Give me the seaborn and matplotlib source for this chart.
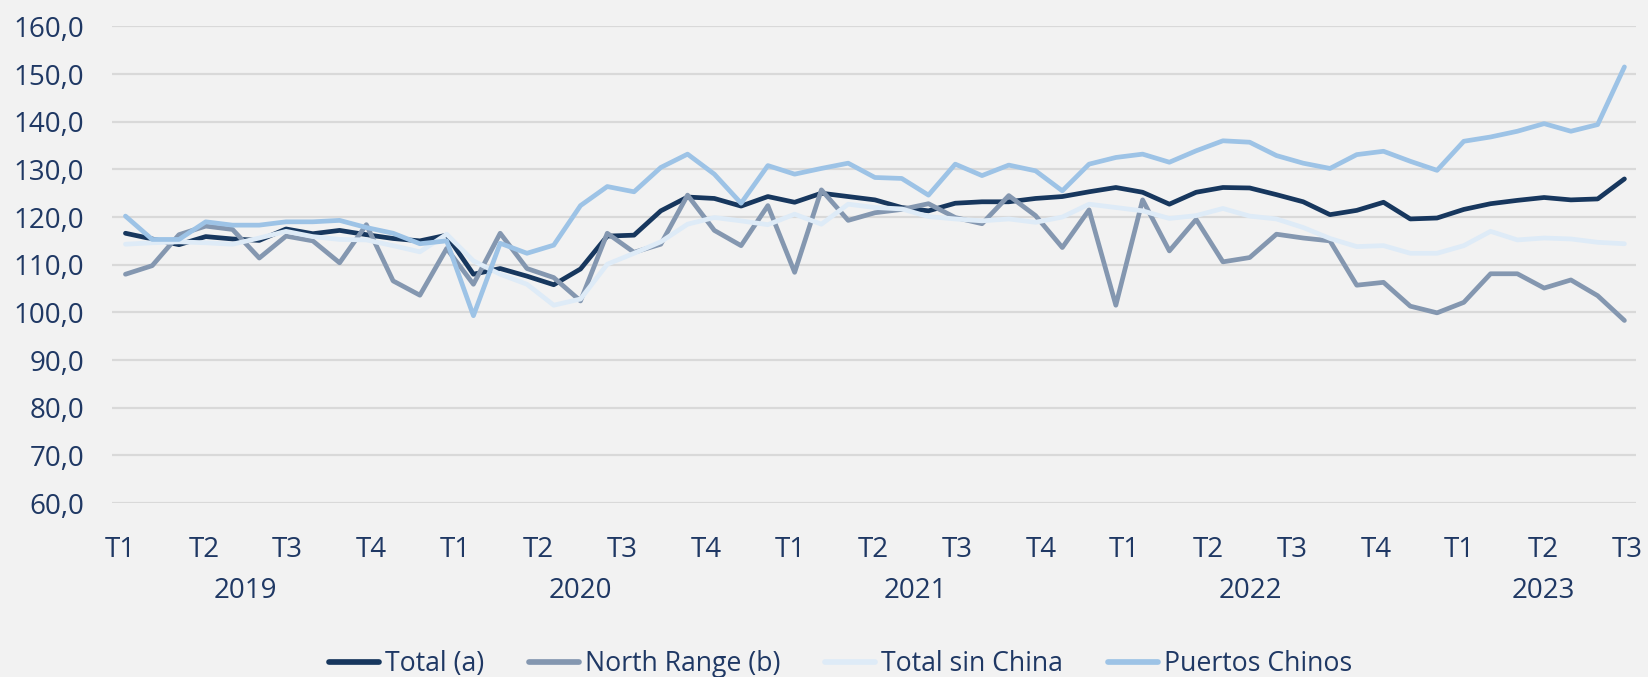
import numpy as np
import pandas as pd
import matplotlib
matplotlib.use("Agg")
import matplotlib.pyplot as plt
from matplotlib.ticker import FuncFormatter
from matplotlib.lines import Line2D
import seaborn as sns

# ---------------- data ----------------
total_a = [116.6, 115.4, 114.2, 115.9, 115.4, 115.1, 117.5, 116.5, 117.2, 116.3, 115.5, 115.0,
           116.2, 108.0, 109.2, 107.6, 105.8, 109.1, 116.0, 116.2, 121.3, 124.2, 123.9, 122.3,
           124.3, 123.1, 125.0, 124.3, 123.6, 122.0, 121.3, 122.9, 123.2, 123.2, 123.9, 124.3,
           125.3, 126.2, 125.2, 122.7, 125.2, 126.2, 126.1, 124.7, 123.2, 120.5, 121.4, 123.1,
           119.6, 119.8, 121.6, 122.8, 123.5, 124.1, 123.6, 123.8, 128.0]
north_range_b = [108.0, 109.8, 116.3, 118.1, 117.4, 111.4, 116.0, 115.0, 110.4, 118.4, 106.6, 103.6,
                 113.4, 105.9, 116.6, 109.2, 107.3, 102.4, 116.6, 112.6, 114.3, 124.6, 117.2, 114.0,
                 122.4, 108.4, 125.7, 119.3, 120.9, 121.6, 122.8, 119.9, 118.6, 124.5, 120.3, 113.6,
                 121.5, 101.5, 123.6, 112.9, 119.5, 110.6, 111.5, 116.4, 115.6, 115.0, 105.7, 106.3,
                 101.3, 99.9, 102.1, 108.1, 108.1, 105.1, 106.8, 103.5, 98.3]
total_sin_china = [114.3, 114.6, 114.8, 114.6, 114.3, 115.6, 117.0, 115.9, 115.3, 115.2, 114.0, 112.7,
                   116.4, 110.8, 108.0, 105.9, 101.5, 102.8, 110.1, 112.4, 114.8, 118.5, 119.9, 119.2,
                   118.4, 120.6, 118.5, 122.7, 122.0, 121.7, 120.1, 119.6, 119.2, 119.6, 118.9, 120.0,
                   122.7, 122.0, 121.3, 119.7, 120.3, 121.8, 120.2, 119.6, 117.8, 115.5, 113.8, 114.0,
                   112.4, 112.4, 114.0, 117.0, 115.2, 115.6, 115.4, 114.7, 114.4]
puertos_chinos = [120.2, 115.3, 115.3, 119.0, 118.3, 118.3, 119.0, 119.0, 119.3, 117.8, 116.6, 114.4,
                  115.0, 99.3, 114.5, 112.4, 114.1, 122.4, 126.4, 125.3, 130.4, 133.2, 129.0, 122.9,
                  130.8, 129.0, 130.2, 131.3, 128.3, 128.1, 124.6, 131.1, 128.7, 130.9, 129.7, 125.5,
                  131.1, 132.5, 133.2, 131.5, 133.9, 136.0, 135.7, 132.9, 131.3, 130.2, 133.1, 133.8,
                  131.7, 129.8, 135.9, 136.8, 138.0, 139.6, 138.0, 139.4, 151.5]

series_names = ["Total (a)", "North Range (b)", "Total sin China", "Puertos Chinos"]
series_colors = ["#17375E", "#8497B0", "#DEEBF7", "#9DC3E6"]

quarter_labels = ["T1", "T2", "T3", "T4"] * 4 + ["T1", "T2", "T3"]
years = ["2019", "2020", "2021", "2022", "2023"]
quarters_per_year = [4, 4, 4, 4, 3]

# ---------------- long-format frame ----------------
n = len(total_a)
month_idx = np.arange(n)
frames = []
for name, vals in zip(series_names, [total_a, north_range_b, total_sin_china, puertos_chinos]):
    frames.append(pd.DataFrame({"idx": month_idx, "valor": vals, "serie": name}))
df = pd.concat(frames, ignore_index=True)

# ---------------- style ----------------
BG = "#F2F2F2"
TXT = "#1F3864"
sns.set_theme(style="whitegrid", rc={
    "axes.facecolor": BG, "figure.facecolor": BG, "grid.color": "#D9D9D9",
    "axes.edgecolor": BG,
})
plt.rcParams["font.family"] = ["Open Sans", "DejaVu Sans"]

fig = plt.figure(figsize=(16.48, 6.77), dpi=100)
ax = fig.add_axes([0.068, 0.257, 0.925, 0.704])

sns.lineplot(data=df, x="idx", y="valor", hue="serie", hue_order=series_names,
             palette=series_colors, linewidth=3.4, ax=ax, legend=False,
             solid_capstyle="round", solid_joinstyle="round")

ax.set_ylim(60, 160)
ax.set_yticks(np.arange(60, 161, 10))
ax.yaxis.set_major_formatter(FuncFormatter(lambda v, p: f"{v:.1f}".replace(".", ",")))
ax.set_xlim(-0.5, n - 1 + 0.45)

# quarter labels (evenly spread across the data span)
qpos = np.linspace(-0.2, n - 1 + 0.1, len(quarter_labels))
ax.set_xticks(qpos)
ax.set_xticklabels(quarter_labels)
ax.grid(axis="x", visible=False)
ax.grid(axis="y", color="#D9D9D9", linewidth=1.6)
ax.tick_params(axis="both", length=0, labelsize=20, colors=TXT)
ax.tick_params(axis="y", pad=20)
ax.tick_params(axis="x", pad=24)
for s in ax.spines.values():
    s.set_visible(False)
ax.set_xlabel("")
ax.set_ylabel("")

# year labels centred on their quarters
start = 0
for yr, cnt in zip(years, quarters_per_year):
    xc = qpos[start:start + cnt].mean()
    ax.text(xc, -0.184, yr, transform=ax.get_xaxis_transform(), ha="center", va="center",
            fontsize=20, color=TXT)
    start += cnt

# legend
handles = [Line2D([0], [0], color=c, lw=4.1, solid_capstyle="round") for c in series_colors]
leg = fig.legend(handles, series_names, loc="center", bbox_to_anchor=(0.5101, 0.019), ncol=4,
                 frameon=False, fontsize=19.2, handlelength=1.875, handletextpad=0.21,
                 columnspacing=1.70, borderaxespad=0.0, borderpad=0.0)
for t in leg.get_texts():
    t.set_color(TXT)

fig.savefig("out.png", dpi=100, facecolor=BG)
